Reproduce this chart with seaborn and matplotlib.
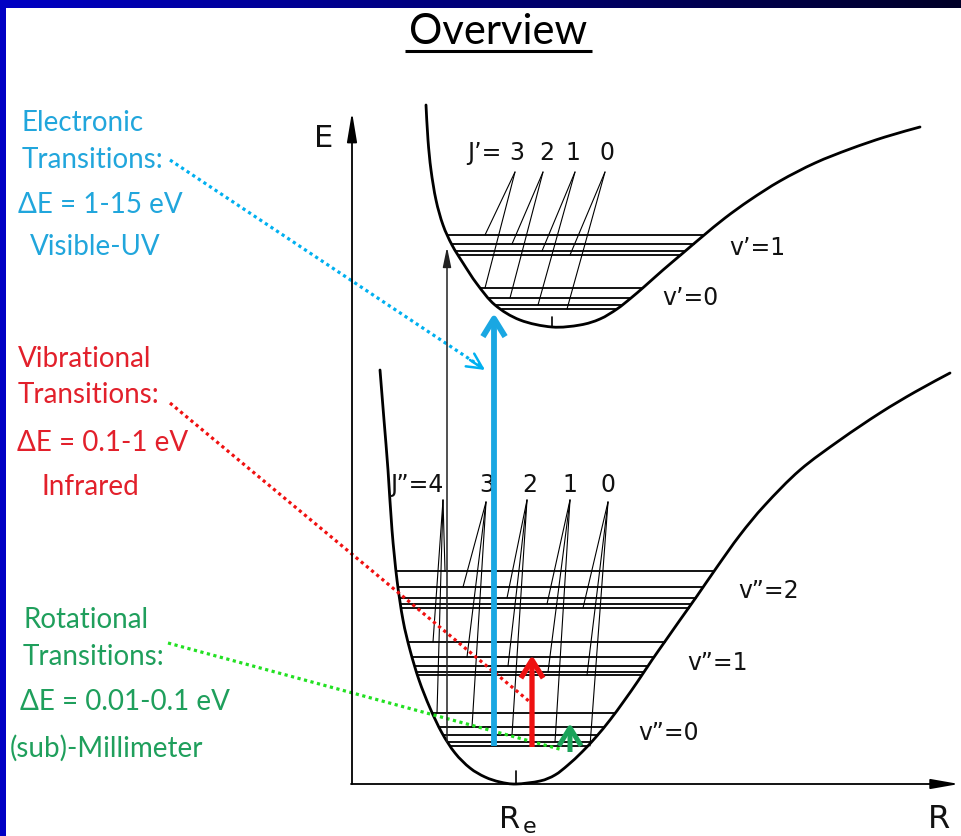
import numpy as np
import pandas as pd
import matplotlib
matplotlib.use("Agg")
import matplotlib.pyplot as plt
from matplotlib.path import Path
from matplotlib.patches import PathPatch
import seaborn as sns

sns.set_theme(style="white")
plt.rcParams["font.family"] = ["Lato", "DejaVu Sans"]

# ---- potential curves (R, E) in drawing units ----
lower_R = [380, 384, 388, 392, 397, 403, 410, 419, 430, 442, 455, 470, 485, 500, 516,
           540, 555, 568, 582, 596, 610, 624, 638, 652, 666, 680, 697, 717, 740, 765,
           800, 840, 880, 915, 950]
lower_E = [370, 420, 470, 530, 580, 620, 650, 680, 708, 733, 753, 768, 777, 782, 784,
           781, 775, 765, 752, 737, 720, 701, 681, 660, 640, 620, 596, 567, 535, 505,
           470, 440, 413, 392, 373]

upper_R = [426, 428, 431, 436, 443, 452, 463, 477, 495, 520, 552, 580, 600, 617, 631,
           645, 663, 683, 703, 725, 750, 780, 815, 850, 885, 920]
upper_E = [105, 140, 170, 200, 225, 245, 263, 284, 305, 320, 327, 325, 319, 309, 298,
           286, 270, 253, 236, 218, 200, 181, 163, 149, 137, 127]

# ---- rotational levels (J = 0 .. Jmax) for each vibrational level ----
lower_levels = {  # v'' : energies for J''=0..4
    0: [746, 742, 735, 727, 713],
    1: [675, 672, 666, 657, 642],
    2: [608, 604, 598, 587, 571],
}
upper_levels = {  # v' : energies for J'=0..3
    0: [309, 305, 298, 288],
    1: [255, 251, 244, 235],
}

# leader-line anchors under each J label and where they meet the levels
lower_J = [4, 3, 2, 1, 0]
lower_J_anchor = [(443, 500), (486, 502), (527, 500), (570, 500), (608, 502)]
lower_J_hit_R = {4: [445, 433, 437], 3: [463, 467, 472], 2: [507, 508, 512],
                 1: [547, 548, 555], 0: [583, 587, 590]}
upper_J = [3, 2, 1, 0]
upper_J_anchor = [(515, 172), (543, 172), (575, 172), (605, 172)]
upper_J_hit_R = {3: [485, 485], 2: [512, 510], 1: [542, 538], 0: [570, 567]}

# ---- transitions ----
blue_arrow = (494, 746, 313)    # R, E_from, E_to
red_arrow = (532, 747, 655)
green_arrow = (570, 752, 723)
black_arrow = (447, 742, 247)

text_blue = "#21A6DC"
text_red = "#E2202B"
text_green = "#1F9F5C"

fig = plt.figure(figsize=(9.61, 8.36), dpi=100)
ax = fig.add_axes([0, 0, 1, 1])
ax.set_xlim(0, 961)
ax.set_ylim(836, 0)
ax.axis("off")

# frame: gradient band on top and a blue strip on the left
grad = np.linspace(0, 1, 256)[None, :]
cmap = matplotlib.colors.LinearSegmentedColormap.from_list("band", ["#0000C4", "#000028"])
ax.imshow(grad, extent=(0, 961, 8, 0), aspect="auto", cmap=cmap, zorder=5)
ax.add_patch(plt.Rectangle((0, 0), 6, 836, color="#0000C4", zorder=5, lw=0))

# title
ax.text(498, 44, "Overview", ha="center", va="baseline", fontsize=30, color="black")
ax.plot([405, 592], [51, 51], color="black", lw=2.2, solid_capstyle="butt")


def smooth_path(R, E):
    """Cubic Bezier path through the given points (Catmull-Rom tangents)."""
    p = np.column_stack([R, E]).astype(float)
    ext = np.vstack([p[0], p, p[-1]])
    verts, codes = [p[0]], [Path.MOVETO]
    for i in range(len(p) - 1):
        a, b, c, d = ext[i], ext[i + 1], ext[i + 2], ext[i + 3]
        verts += [b + (c - a) / 6, c - (d - b) / 6, c]
        codes += [Path.CURVE4] * 3
    return Path(verts, codes)


def branch_x(R, E, y):
    i = int(np.argmax(E))
    lr, le = np.array(R[: i + 1]), np.array(E[: i + 1])
    rr, re = np.array(R[i:]), np.array(E[i:])
    return np.interp(y, le, lr), np.interp(y, re[::-1], rr[::-1])


# potential curves
for R, E in ((lower_R, lower_E), (upper_R, upper_E)):
    ax.add_patch(PathPatch(smooth_path(R, E), fc="none", ec="black", lw=2.0,
                           capstyle="round", joinstyle="round"))

# level lines, one row per end point
rows = []
for name, levels, R, E in (("lo", lower_levels, lower_R, lower_E),
                           ("up", upper_levels, upper_R, upper_E)):
    for v, es in levels.items():
        for j, e in enumerate(es):
            x0, x1 = branch_x(R, E, e)
            uid = f"{name}{v}{j}"
            rows += [dict(unit=uid, R=x0, E=e), dict(unit=uid, R=x1, E=e)]
levels_df = pd.DataFrame(rows)
sns.lineplot(data=levels_df, x="R", y="E", units="unit", estimator=None, sort=False,
             color="black", lw=1.3, ax=ax)

# leaders from J labels down to the levels
for j, (ax0, ay0) in zip(lower_J, lower_J_anchor):
    for v, hx in zip((2, 1, 0), lower_J_hit_R[j]):
        ax.plot([ax0, hx], [ay0, lower_levels[v][j]], color="black", lw=0.8)
for j, (ax0, ay0) in zip(upper_J, upper_J_anchor):
    for v, hx in zip((1, 0), upper_J_hit_R[j]):
        ax.plot([ax0, hx], [ay0, upper_levels[v][j]], color="black", lw=0.8)

# minimum ticks
ax.plot([516, 516], [771, 784], color="black", lw=1.2)
ax.plot([552, 552], [317, 327], color="black", lw=1.2)

# axes E and R
ax.annotate("", xy=(352, 112), xytext=(352, 784),
            arrowprops=dict(arrowstyle="-|>,head_length=1.8,head_width=0.3",
                            mutation_scale=10, color="black", lw=1.3,
                            shrinkA=0, shrinkB=0))
ax.annotate("", xy=(959, 784), xytext=(351, 784),
            arrowprops=dict(arrowstyle="-|>,head_length=1.7,head_width=0.3",
                            mutation_scale=10, color="black", lw=1.3,
                            shrinkA=0, shrinkB=0))

# thin electronic transition arrow
ax.annotate("", xy=(black_arrow[0], black_arrow[2]), xytext=(black_arrow[0], black_arrow[1]),
            arrowprops=dict(arrowstyle="-|>,head_length=1.2,head_width=0.25",
                            mutation_scale=10, color="#222222", lw=1.1,
                            shrinkA=0, shrinkB=0))

# coloured transition arrows
for (x, e0, e1), col, lw in ((blue_arrow, "#1AA7E2", 4.2),
                             (red_arrow, "#EE1111", 3.8),
                             (green_arrow, "#1BA35A", 3.6)):
    ax.annotate("", xy=(x, e1), xytext=(x, e0),
                arrowprops=dict(arrowstyle="->,head_length=1.3,head_width=0.8",
                                mutation_scale=10, color=col, lw=lw,
                                shrinkA=0, shrinkB=0, capstyle="butt"),
                zorder=6)

# dotted pointers from the captions
dots = dict(ls=(0, (1, 1.1)), lw=2.3, dash_capstyle="butt")
ax.plot([170, 483], [160, 368], color="#00B0F0", **dots)
ax.annotate("", xy=(485, 370), xytext=(470, 360),
            arrowprops=dict(arrowstyle="->,head_length=1.1,head_width=0.55",
                            mutation_scale=10, color="#00B0F0", lw=1.8,
                            shrinkA=0, shrinkB=0))
ax.plot([170, 530], [403, 702], color="#F01010", **dots)
ax.plot([168, 563], [643, 750], color="#22E022", **dots)

# diagram labels
lab = dict(family=["DejaVu Sans"], color="#111111", va="baseline")
ax.text(324, 147, "E", ha="center", fontsize=22, **lab)
ax.text(939, 828, "R", ha="center", fontsize=23, **lab)
ax.text(510, 828, "R", ha="center", fontsize=22, **lab)
ax.text(530, 833, "e", ha="center", fontsize=16, **lab)

ax.text(484, 160, "J\u2019=", ha="center", fontsize=17, **lab)
for j, xc in zip(upper_J, [517, 547, 573, 607]):
    ax.text(xc, 160, str(j), ha="center", fontsize=17, **lab)
ax.text(417, 492, "J\u201d=4", ha="center", fontsize=17, **lab)
for j, xc in zip(lower_J[1:], [487, 530, 570, 608]):
    ax.text(xc, 492, str(j), ha="center", fontsize=17, **lab)

ax.text(729, 255, "v\u2019=1", ha="left", fontsize=17, **lab)
ax.text(662, 305, "v\u2019=0", ha="left", fontsize=17, **lab)
ax.text(738, 598, "v\u201d=2", ha="left", fontsize=17, **lab)
ax.text(687, 670, "v\u201d=1", ha="left", fontsize=17, **lab)
ax.text(638, 740, "v\u201d=0", ha="left", fontsize=17, **lab)

# captions
cap = dict(va="baseline", fontsize=20)
for x, y, s in ((22, 131, "Electronic"), (22, 168, "Transitions:"),
                (18, 213, "\u0394E = 1-15 eV"), (30, 255, "Visible-UV")):
    ax.text(x, y, s, color=text_blue, **cap)
for x, y, s in ((18, 367, "Vibrational"), (18, 403, "Transitions:"),
                (17, 451, "\u0394E = 0.1-1 eV"), (42, 495, "Infrared")):
    ax.text(x, y, s, color=text_red, **cap)
for x, y, s in ((23, 628, "Rotational"), (23, 665, "Transitions:"),
                (20, 710, "\u0394E = 0.01-0.1 eV"), (10, 757, "(sub)-Millimeter")):
    ax.text(x, y, s, color=text_green, **cap)

fig.savefig("out.png", dpi=100)
